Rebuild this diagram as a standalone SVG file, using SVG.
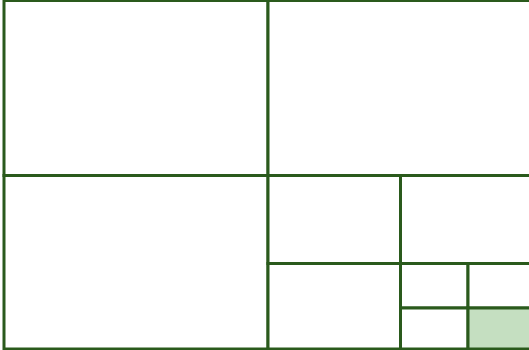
<svg xmlns="http://www.w3.org/2000/svg" width="529" height="350" viewBox="0 0 529 350">
<style>
.c{fill:#ffffff;stroke:#2a5a1c;stroke-width:3}
.h{fill:#c5dfc1;stroke:#2a5a1c;stroke-width:3}
</style>
<rect width="529" height="350" fill="#ffffff"/>
<g id="tiles">
<rect id="t1" class="c" x="4" y="0.5" width="264" height="175"/>
<rect id="t2" class="c" x="268" y="0.5" width="264" height="175"/>
<rect id="t3" class="c" x="4" y="175.5" width="264" height="173.5"/>
<rect id="t4" class="c" x="268" y="175.5" width="132.5" height="88"/>
<rect id="t5" class="c" x="400.5" y="175.5" width="132" height="88"/>
<rect id="t6" class="c" x="268" y="263.5" width="132.5" height="85.5"/>
<rect id="t7" class="c" x="400.5" y="263.5" width="67.5" height="44.5"/>
<rect id="t8" class="c" x="468" y="263.5" width="64" height="44.5"/>
<rect id="t9" class="c" x="400.5" y="308" width="67.5" height="41"/>
<rect id="t10" class="h" x="468" y="308" width="64" height="41"/>
</g>
</svg>
